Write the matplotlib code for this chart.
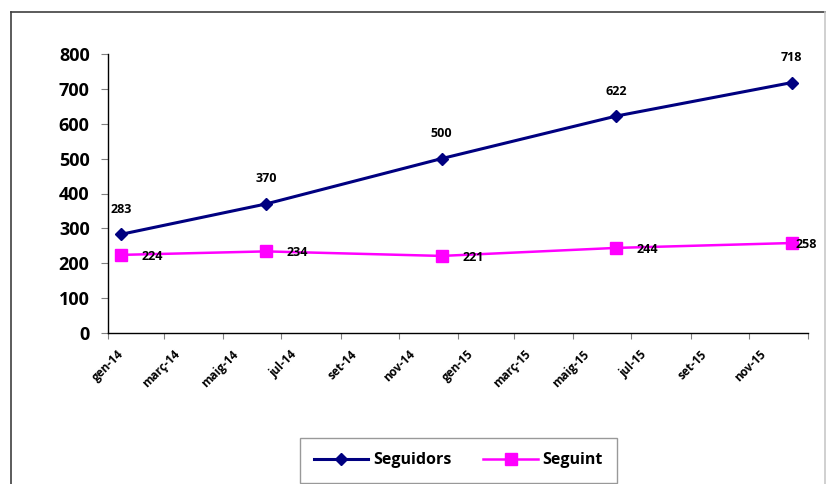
import matplotlib
matplotlib.use("Agg")
import matplotlib.pyplot as plt
import matplotlib.dates as mdates
import matplotlib.transforms as mtransforms
from matplotlib.lines import Line2D
import datetime as dt

# dades
dates = ["2014-01-15", "2014-06-15", "2014-12-15", "2015-06-15", "2015-12-15"]
seguidors = [283, 370, 500, 622, 718]
seguint = [224, 234, 221, 244, 258]
mesos = ["gen", "febr", "març", "abr", "maig", "juny",
         "jul", "ag", "set", "oct", "nov", "des"]

plt.rcParams['font.family'] = ['Open Sans', 'DejaVu Sans']
plt.rcParams['font.weight'] = 'bold'

x = [dt.datetime.strptime(d, "%Y-%m-%d") for d in dates]

fig = plt.figure(figsize=(8.26, 4.84), dpi=100)
ax = fig.add_axes([107.7 / 826, 1 - 333 / 484, (808 - 107.7) / 826, (333 - 54) / 484])

ax.plot(x, seguidors, color="#000080", lw=2.2, marker="D", ms=6.5, label="Seguidors")
ax.plot(x, seguint, color="#FF00FF", lw=1.8, marker="s", ms=8.5, label="Seguint")

# etiquetes de dades
for xi, v in zip(x, seguidors):
    ax.annotate(str(v), (xi, v), xytext=(0, 18), textcoords="offset points",
                ha="center", va="center", fontsize=9, fontweight="bold")
for i, (xi, v) in enumerate(zip(x, seguint)):
    dx = 3 if i == len(seguint) - 1 else 15
    ax.annotate(str(v), (xi, v), xytext=(dx, -1), textcoords="offset points",
                ha="left", va="center", fontsize=9, fontweight="bold")


def etiqueta(v, p):
    d = mdates.num2date(v)
    if d.year > 2015:
        return ""
    return "%s-%s" % (mesos[d.month - 1], str(d.year)[2:])


ax.set_ylim(0, 800)
ax.set_yticks(range(0, 801, 100))
ax.set_xlim(dt.datetime(2014, 1, 1), dt.datetime(2016, 1, 1))
ax.xaxis.set_major_locator(mdates.MonthLocator(bymonth=[1, 3, 5, 7, 9, 11]))
ax.xaxis.set_major_formatter(plt.FuncFormatter(etiqueta))

for s in ["top", "right"]:
    ax.spines[s].set_visible(False)
for s in ["left", "bottom"]:
    ax.spines[s].set_color("black")
    ax.spines[s].set_linewidth(1.0)

ax.tick_params(axis="y", direction="out", length=5, color="#808080", pad=8, labelsize=13)
ax.tick_params(axis="x", direction="out", length=4, color="#808080", pad=10, labelsize=8.5)
for lab in ax.get_yticklabels():
    lab.set_fontweight("bold")

offset = mtransforms.ScaledTranslation(14 / 100, 0, fig.dpi_scale_trans)
for lab in ax.get_xticklabels():
    lab.set_rotation(45)
    lab.set_ha("right")
    lab.set_va("center")
    lab.set_rotation_mode("anchor")
    lab.set_fontweight("bold")
    lab.set_transform(lab.get_transform() + offset)

leg = fig.legend(loc="center", bbox_to_anchor=(458.5 / 826, 1 - 460.5 / 484),
                 ncol=2, frameon=True, fancybox=False, edgecolor="#808080",
                 prop={"size": 11.5, "weight": "bold"}, handlelength=3.4,
                 columnspacing=2.0, borderpad=0.9, handletextpad=0.3)
leg.get_frame().set_linewidth(1.0)

# marc del grafic
fig.add_artist(Line2D([11 / 826, 11 / 826], [0, 1 - 12 / 484], transform=fig.transFigure,
                      color="#404040", lw=1.2))
fig.add_artist(Line2D([11 / 826, 1], [1 - 12 / 484, 1 - 12 / 484], transform=fig.transFigure,
                      color="#404040", lw=1.2))
fig.add_artist(Line2D([825 / 826, 825 / 826], [0, 1 - 12 / 484], transform=fig.transFigure,
                      color="#c8c8c8", lw=1.2))

fig.savefig("out.png", dpi=100)
